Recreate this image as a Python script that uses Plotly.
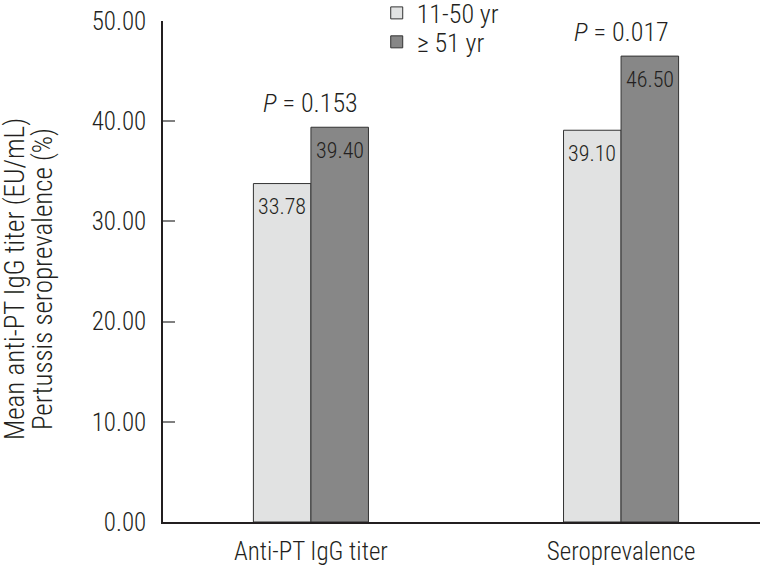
import plotly.graph_objects as go

categories = ["Anti-PT IgG titer", "Seroprevalence"]
young = [33.78, 39.10]
old = [39.40, 46.50]
p_labels = ["<i>P</i> = 0.153", "<i>P</i> = 0.017"]
series_names = ["11-50 yr", "≥ 51 yr"]
yticks = [0, 10, 20, 30, 40, 50]
ytitle_lines = ["Mean anti-PT IgG titer (EU/mL)", "Pertussis seroprevalence (%)"]

FONT = "Roboto Condensed, Liberation Sans Narrow, sans-serif"
TXT = "#231f20"
W = 300
BAR_HALF_PX = 28.75  # half a bar width in pixels, for centering the value labels

fig = go.Figure()
fig.add_trace(go.Bar(
    x=categories, y=young, name=series_names[0], legend="legend",
    marker=dict(color="#e1e2e2", line=dict(color="#333333", width=1)),
))
fig.add_trace(go.Bar(
    x=categories, y=old, name=series_names[1], legend="legend2",
    marker=dict(color="#878787", line=dict(color="#333333", width=1)),
))

for series, sh in [(young, -BAR_HALF_PX), (old, BAR_HALF_PX)]:
    for c, v in zip(categories, series):
        fig.add_annotation(x=c, y=v, text=f"{v:.2f}", showarrow=False, xshift=sh,
                           yanchor="middle", yshift=-23,
                           font=dict(size=22, color=TXT, family=FONT, weight=W))

for c, p, m in zip(categories, p_labels, [max(a, b) for a, b in zip(young, old)]):
    fig.add_annotation(x=c, y=m, text=p, showarrow=False, yanchor="bottom", yshift=7,
                       font=dict(size=26, color=TXT, family=FONT, weight=W))

for xp, line in zip([-0.248, -0.201], ytitle_lines):
    fig.add_annotation(x=xp, y=0.47, xref="paper", yref="paper", text=line, showarrow=False,
                       textangle=-90, xanchor="center", yanchor="middle",
                       font=dict(size=27, color=TXT, family=FONT, weight=W))

legend_style = dict(xanchor="left", yanchor="top",
                    font=dict(size=26, family=FONT, color=TXT, weight=W),
                    bgcolor="rgba(0,0,0,0)")

fig.update_layout(
    width=768, height=568,
    margin=dict(l=163, r=8, t=5, b=46, autoexpand=False),
    paper_bgcolor="white", plot_bgcolor="white",
    barmode="group", bargap=0.629, bargroupgap=0,
    font=dict(family=FONT, color=TXT, weight=W),
    showlegend=True,
    legend=dict(x=0.358, y=1.03, **legend_style),
    legend2=dict(x=0.358, y=0.974, **legend_style),
)
fig.update_xaxes(
    range=[-0.477, 1.448], showline=True, linecolor=TXT, linewidth=1.5,
    ticks="", ticklabelstandoff=6,
    tickfont=dict(size=25, family=FONT, color=TXT, weight=W), showgrid=False,
)
fig.update_yaxes(
    domain=[0, 0.969],
    range=[0, 50], tickvals=yticks, ticktext=[f"{v:.2f}" for v in yticks],
    showline=True, linecolor=TXT, linewidth=1.5,
    ticks="inside", ticklen=12, tickcolor="#808080", tickwidth=1.5,
    ticklabelstandoff=10,
    tickfont=dict(size=25, family=FONT, color=TXT, weight=W), showgrid=False, zeroline=False,
)

fig.write_html("out.html", config={"displayModeBar": False},
               post_script="document.body.style.margin='0px';")
